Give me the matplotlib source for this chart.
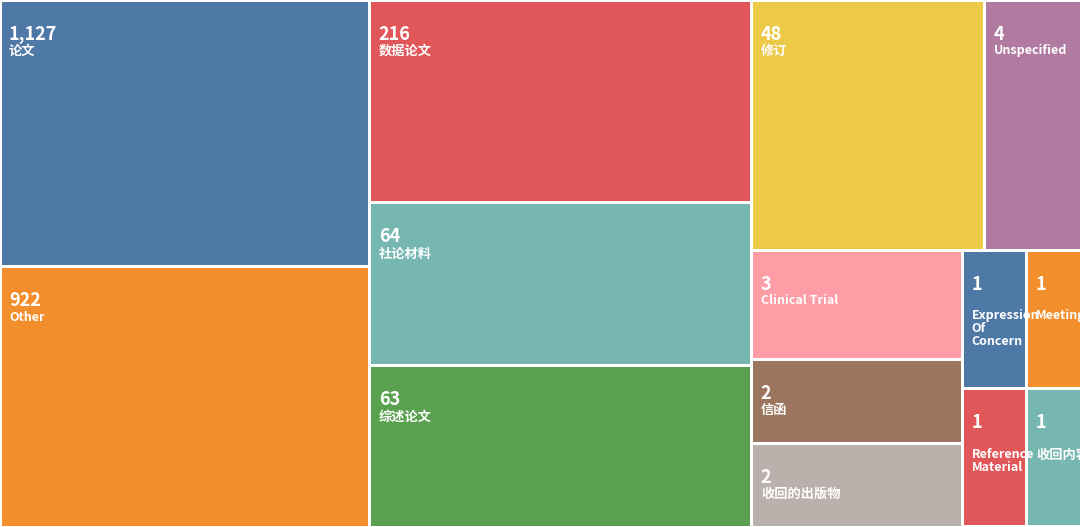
import numpy as np
import matplotlib
matplotlib.use("Agg")
import matplotlib.pyplot as plt
from matplotlib.patches import Rectangle

plt.rcParams['font.family'] = ['Noto Sans CJK SC', 'DejaVu Sans']

# DATA
names = ["论文", "Other", "数据论文", "社论材料", "综述论文", "修订", "Unspecified",
         "Clinical Trial", "信函", "收回的出版物", "Expression Of Concern", "Meeting",
         "Reference Material", "收回内容"]
counts = [1127, 922, 216, 64, 63, 48, 4, 3, 2, 2, 1, 1, 1, 1]
colors = ["#4e79a7", "#f28e2b", "#e15759", "#76b7b2", "#59a14f", "#edc948", "#b07aa1",
          "#ff9da7", "#9c755f", "#bab0ac", "#4e79a7", "#f28e2b", "#e15759", "#76b7b2"]

W, H = 1091, 527  # treemap area (pixels), runs a bit past the right edge

# area is on a log scale: log2(2*v)
weights = list(np.log2(2 * np.array(counts, dtype=float)))


def squarify(vals, x0, y0, x1, y1, ratio=(1 + 5 ** 0.5) / 2):
    # d3-style squarified layout
    rects = []
    value = sum(vals)
    i0 = i1 = 0
    n = len(vals)
    while i0 < n:
        dx, dy = x1 - x0, y1 - y0
        s = vals[i1]
        i1 += 1
        vmin = vmax = s
        alpha = max(dy / dx, dx / dy) / (value * ratio)
        beta = s * s * alpha
        min_ratio = max(vmax / beta, beta / vmin)
        while i1 < n:
            v = vals[i1]
            s += v
            vmin, vmax = min(vmin, v), max(vmax, v)
            beta = s * s * alpha
            new_ratio = max(vmax / beta, beta / vmin)
            if new_ratio > min_ratio:
                s -= v
                break
            min_ratio = new_ratio
            i1 += 1
        row = vals[i0:i1]
        if dx < dy:
            yb = y0 + dy * s / value
            xx = x0
            for v in row:
                w = (x1 - x0) * v / s
                rects.append((xx, y0, w, yb - y0))
                xx += w
            y0 = yb
        else:
            xb = x0 + dx * s / value
            yy = y0
            for v in row:
                h = (y1 - y0) * v / s
                rects.append((x0, yy, xb - x0, h))
                yy += h
            x0 = xb
        value -= s
        i0 = i1
    return rects


rects = squarify(weights, 0, 0, W, H)

fig = plt.figure(figsize=(10.8, 5.27), dpi=100)
ax = fig.add_axes([0, 0, 1, 1])
ax.set_xlim(0, 1080)
ax.set_ylim(527, 0)
ax.axis("off")

for (x, y, w, h), name, c, col in zip(rects, names, counts, colors):
    patch = Rectangle((x + 1.5, y + 1.5), w - 3, h - 3, facecolor=col, edgecolor="none")
    ax.add_patch(patch)
    label = name
    gap = 17
    if w < 100:
        label = "\n".join(name.split(" "))
        gap = 32
    fs = 9.5 if not name.isascii() else 9
    t1 = ax.text(x + 9, y + 34, f"{c:,}", color="white", fontsize=13, fontweight="bold",
                 va="center", ha="left")
    t2 = ax.text(x + 9, y + 34 + gap - 7, label, color="white", fontsize=fs,
                 fontweight="bold", va="top", ha="left", linespacing=1.0)
    t1.set_clip_path(patch)
    t2.set_clip_path(patch)

fig.savefig("out.png", dpi=100, facecolor="white")
